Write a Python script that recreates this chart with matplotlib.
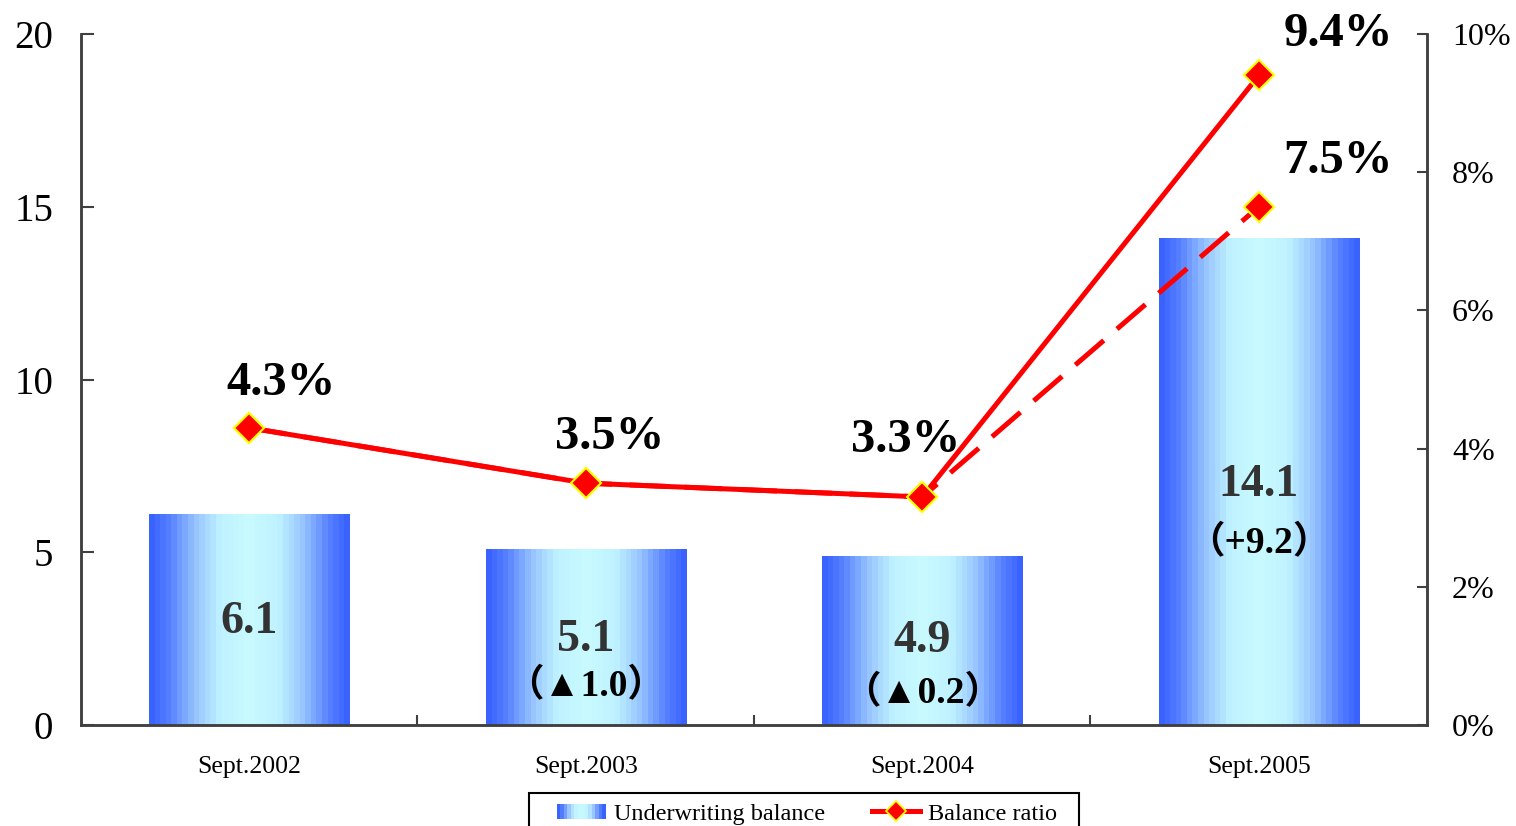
import numpy as np
import matplotlib
matplotlib.use("Agg")
import matplotlib.pyplot as plt
from matplotlib.colors import LinearSegmentedColormap
from matplotlib.legend_handler import HandlerBase
from matplotlib.lines import Line2D
from matplotlib.patches import Rectangle


periods = ["Sept.2002", "Sept.2003", "Sept.2004", "Sept.2005"]
balance = [6.1, 5.1, 4.9, 14.1]
balance_change = ["", "（▲1.0）", "（▲0.2）", "（+9.2）"]
ratio = [4.3, 3.5, 3.3, 9.4]
ratio_alt = [4.3, 3.5, 3.3, 7.5]
left_ticks = [0, 5, 10, 15, 20]
right_ticks = [0, 2, 4, 6, 8, 10]

plt.rcParams["font.family"] = ["Liberation Serif", "Noto Sans CJK JP", "DejaVu Sans"]

SPINE = "#404040"
bar_cmap = LinearSegmentedColormap.from_list(
    "bar", [(0.0, "#c8faff"), (0.3, "#bff2ff"), (0.55, "#98c4ff"),
            (0.8, "#5a84ff"), (1.0, "#3a62ff")])


def gradient_row(n):
    # symmetric banded ramp: light in the middle, blue at both edges
    t = np.abs(np.linspace(-1, 1, n))
    return bar_cmap(t)


class GradientHandler(HandlerBase):
    def create_artists(self, legend, orig_handle, xdescent, ydescent,
                       width, height, fontsize, trans):
        n = 14
        cols = gradient_row(n)
        arts = []
        for i, c in enumerate(cols):
            arts.append(Rectangle((-xdescent + i * width / n, -ydescent + height * 0.05),
                                  width / n + 0.3, height * 0.9,
                                  facecolor=c, edgecolor="none", transform=trans))
        return arts


fig = plt.figure(figsize=(15.16, 8.26), dpi=100)
ax = fig.add_axes([0.0534, 0.1223, 0.8879, 0.8365])
ax2 = ax.twinx()

x = np.arange(len(periods))
bars = ax.bar(x, balance, width=0.595, facecolor="none", edgecolor="none")
grad = gradient_row(36)[np.newaxis, :, :3]
for b in bars:
    im = ax.imshow(grad, extent=(b.get_x(), b.get_x() + b.get_width(), 0, b.get_height()),
                   aspect="auto", interpolation="nearest", zorder=1)
    im.set_clip_path(b)

ax.set_xlim(-0.5, len(periods) - 0.5)
ax.set_ylim(0, 20)
ax.set_yticks(left_ticks)
ax.set_xticks(x)
ax.set_xticklabels(periods, fontsize=18.5)
ax.set_xticks(np.arange(0.5, len(periods) - 1), minor=True)
ax.tick_params(axis="x", which="major", length=0, pad=22)
ax.tick_params(axis="x", which="minor", direction="in", length=7, width=1.5, color=SPINE)
ax.tick_params(axis="y", direction="in", length=9, width=1.5, color=SPINE, labelsize=28, pad=20)

# bar values and change vs. previous year
value_y = [2.98, 2.46, 2.43, 6.95]
change_y = [None, 1.13, 0.93, 5.27]
for i in x:
    ax.text(i, value_y[i], f"{balance[i]:.1f}", ha="center", va="center",
            fontsize=33, fontweight="bold", color="#333333", zorder=3)
    if balance_change[i]:
        ax.text(i, change_y[i], balance_change[i], ha="center", va="center",
                fontsize=27, fontweight="bold", color="black", zorder=3)

ax2.plot(x, ratio_alt, color="red", lw=3.6, ls=(0, (7.5, 3.5)), marker="D", ms=15,
         mfc="red", mec="#ffff00", mew=1.5, zorder=4)
ax2.plot(x, ratio, color="red", lw=3.6, marker="D", ms=15,
         mfc="red", mec="#ffff00", mew=1.5, zorder=5)
ax2.set_ylim(0, 10)
ax2.set_yticks(right_ticks)
ax2.set_yticklabels([f"{t}%" for t in right_ticks])
ax2.tick_params(axis="y", direction="in", length=7, width=1.5, color=SPINE, labelsize=23, pad=18)

offsets = [(23, 32), (17, 33), (-12, 41), (57, 30)]
for i, (v, off) in enumerate(zip(ratio, offsets)):
    ax2.annotate(f"{v}%", (i, v), xytext=off, textcoords="offset points",
                 ha="center", va="center", fontsize=35, fontweight="bold")
ax2.annotate(f"{ratio_alt[-1]}%", (3, ratio_alt[-1]), xytext=(57, 33),
             textcoords="offset points", ha="center", va="center",
             fontsize=35, fontweight="bold")

for a in (ax, ax2):
    a.spines["top"].set_visible(False)
    for s in ("left", "right", "bottom"):
        a.spines[s].set_color(SPINE)
        a.spines[s].set_linewidth(1.8)

# legend box runs off the bottom edge of the figure
fig.patches.append(Rectangle((529 / 1516, -0.02), 550 / 1516, 0.06,
                             transform=fig.transFigure, facecolor="white",
                             edgecolor="black", linewidth=1.5, zorder=0))

bar_handle = Rectangle((0, 0), 1, 1)
line_handle = Line2D([], [], color="red", lw=3.6, marker="D", ms=10,
                     mfc="red", mec="#ffff00", mew=1.2)
leg = fig.legend([bar_handle, line_handle], ["Underwriting balance", "Balance ratio"],
                 handler_map={Rectangle: GradientHandler()},
                 loc="upper left", bbox_to_anchor=(557 / 1516, 0.028), ncol=2,
                 fontsize=17.5, frameon=False, borderpad=0,
                 handlelength=2.0, handletextpad=0.33, columnspacing=1.93,
                 borderaxespad=0)

fig.savefig("out.png", dpi=100)
